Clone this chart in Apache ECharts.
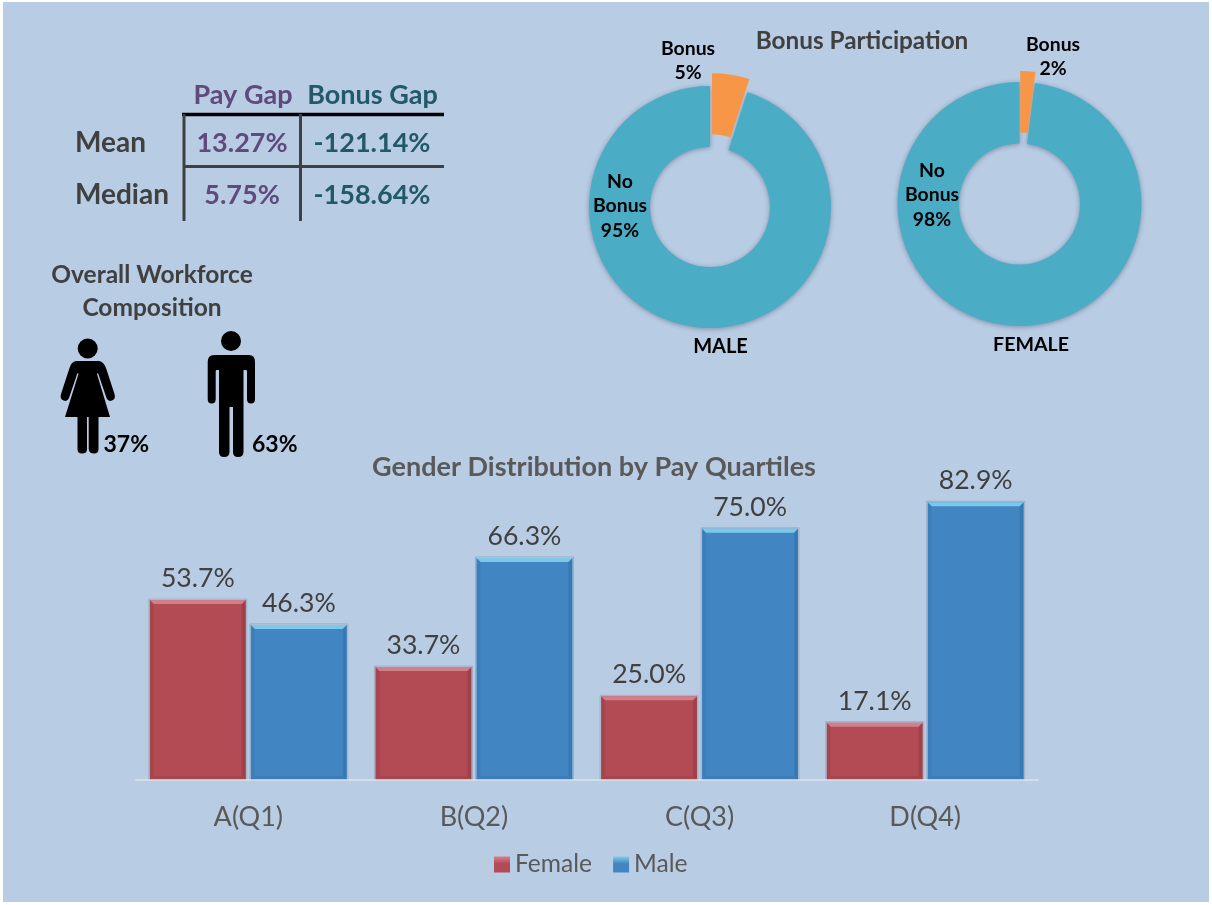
<!DOCTYPE html>
<html><head><meta charset="utf-8">
<style>html,body{margin:0;padding:0;background:#fff}#c{width:1212px;height:905px}</style>
<script src="https://cdn.jsdelivr.net/npm/echarts@6/dist/echarts.min.js"></script>
</head><body><div id="c"></div>
<script>
const quartiles = ['A(Q1)','B(Q2)','C(Q3)','D(Q4)'];
const femaleShare = [53.7,33.7,25.0,17.1];
const maleShare = [46.3,66.3,75.0,82.9];
const maleBonus = [5,95];
const femaleBonus = [2,98];
const bonusNames = ['Bonus','No Bonus'];
const gapColumns = ['Pay Gap','Bonus Gap'];
const gapRows = ['Mean','Median'];
const payGap = ['13.27%','5.75%'];
const bonusGap = ['-121.14%','-158.64%'];
const workforce = ['37%','63%'];

const FONT = 'Lato';
const BG = '#b8cce4', RED = '#b24b54', BLUE = '#4186c3', TEAL = '#4bacc6', ORANGE = '#f79646';

const womanPath = 'M76,361 L99,361 Q104,362 106,368 L114.5,394 Q116,399 112,400.5 Q108,402 106.5,398 L98,373 L97,374 L110,417 L98.5,417 L98.5,449 Q98.5,453.5 94,453.5 Q89,453.5 88.7,449 L88.7,417 L87,417 L87,449 Q87,453.5 82,453.5 Q77.5,453.5 77.5,449 L77.5,417 L65,417 L78.5,374 L77.5,373 L69,398 Q67.5,402 63.5,400.5 Q59.5,399 61,394 L69.5,368 Q71,362 76,361 Z';
const manPath = 'M214,355 L249,355 Q255,355 255,362 L255,399 Q255,403.5 251,403.5 Q247,403.5 247,399 L247,371 Q247,370 245,370 L243.5,370 L243.5,452 Q243.5,457 238,457 Q233,457 233,452 L233,407 L229.5,407 L229.5,452 Q229.5,457 224,457 Q219,457 219,452 L219,370 L217,370 Q215.7,370 215.7,371 L215.7,399 Q215.7,403.5 211.7,403.5 Q207.7,403.5 207.7,399 L207.7,362 Q207.7,355 214,355 Z';
echarts.graphic.registerShape('womanIcon', echarts.graphic.extendPath(womanPath, {}));
echarts.graphic.registerShape('manIcon', echarts.graphic.extendPath(manPath, {}));

function txt(x,y,text,size,fill,align){
  return {type:'text',x:x,y:y,style:{text:text,font:'bold '+size+'px '+FONT,fill:fill,align:align||'center',verticalAlign:'middle'}};
}
function rule(x1,y1,x2,y2,color,w){
  return {type:'line',shape:{x1:x1,y1:y1,x2:x2,y2:y2},style:{stroke:color,lineWidth:w||3}};
}
const tableY = [143,195];
const graphics = [
  {type:'rect',z:-10,shape:{x:3,y:2,width:1206,height:900},style:{fill:BG}},
  rule(182,114.5,444,114.5,'#000',3.5),
  rule(184,114,184,221,'#404040'),
  rule(300.5,114,300.5,221,'#404040'),
  rule(184,166.5,444,166.5,'#404040'),
  txt(243,95,gapColumns[0],27,'#604a7b'),
  txt(372.5,95,gapColumns[1],27,'#215968'),
  txt(152,275,'Overall Workforce',24.5,'#404040'),
  txt(152,308,'Composition',24.5,'#404040'),
  {type:'circle',shape:{cx:87.7,cy:348.5,r:10},style:{fill:'#000'}},
  {type:'womanIcon',style:{fill:'#000'}},
  {type:'circle',shape:{cx:231,cy:341,r:10},style:{fill:'#000'}},
  {type:'manIcon',style:{fill:'#000'}},
  txt(103.5,445,workforce[0],23,'#000','left'),
  txt(252,445,workforce[1],23,'#000','left'),
  txt(720.5,347,'MALE',20,'#000'),
  txt(1031,345,'FEMALE',19.6,'#000')
];
gapRows.forEach(function(r,i){
  graphics.push(txt(75,tableY[i],r,28,'#404040','left'));
  graphics.push(txt(242,tableY[i],payGap[i],27,'#604a7b'));
  graphics.push(txt(372,tableY[i],bonusGap[i],27,'#215968'));
});

function donut(vals,cx,cy,r,r0,bonusPos,noPos){
  return {
    type:'pie',center:[cx,cy],radius:[r0,r],startAngle:90,clockwise:true,silent:true,animation:false,
    data:[
      {name:bonusNames[0],value:vals[0],itemStyle:{color:'transparent',shadowBlur:0}},
      {name:bonusNames[1],value:vals[1],itemStyle:{color:TEAL,shadowBlur:5,shadowColor:'rgba(40,50,70,0.4)',shadowOffsetY:1}}
    ],
    label:{show:true,position:'inside',fontFamily:FONT,fontWeight:'bold',fontSize:19.4,lineHeight:24.5,color:'#000',
      formatter:function(p){return p.name.replace(' ','\n')+'\n'+p.value+'%';}},
    labelLine:{show:false},
    labelLayout:function(p){
      const q = p.dataIndex===0?bonusPos:noPos;
      return {x:q[0],y:q[1],align:'center',verticalAlign:'middle'};
    }
  };
}
function explodedSlice(vals,cx,cy,r,r0){
  return {
    type:'pie',center:[cx,cy],radius:[r0,r],startAngle:90,clockwise:true,silent:true,animation:false,
    label:{show:false},labelLine:{show:false},
    data:[
      {name:bonusNames[0],value:vals[0],itemStyle:{color:ORANGE}},
      {name:bonusNames[1],value:vals[1],itemStyle:{color:'transparent'}}
    ]
  };
}
function bevel(values,shift,light,dark){
  return {
    type:'custom',name:'bevel'+shift,silent:true,z:5,animation:false,
    encode:{x:0,y:1},
    data:values.map(function(v,i){return [i,v];}),
    renderItem:function(params,api){
      const top = api.coord([api.value(0),api.value(1)]);
      const base = api.coord([api.value(0),0]);
      const l = top[0]+shift-48, rr = top[0]+shift+48, t = top[1], b = base[1], e = 4;
      return {type:'group',children:[
        {type:'polygon',shape:{points:[[l,t],[rr,t],[rr-e,t+e],[l+e,t+e]]},style:{fill:light}},
        {type:'polygon',shape:{points:[[l,t],[l+e,t+e],[l+e,b-e],[l,b]]},style:{fill:dark,opacity:0.12}},
        {type:'polygon',shape:{points:[[rr,t],[rr-e,t+e],[rr-e,b-e],[rr,b]]},style:{fill:dark,opacity:0.22}},
        {type:'polygon',shape:{points:[[l,b],[l+e,b-e],[rr-e,b-e],[rr,b]]},style:{fill:dark,opacity:0.12}},
        {type:'rect',shape:{x:l-1,y:t-1,width:98,height:b-t+1},style:{fill:'none',stroke:'rgba(120,130,150,0.4)',lineWidth:1}}
      ]};
    }
  };
}
function legendFill(light,solid){
  return {type:'linear',x:0,y:0,x2:0,y2:1,colorStops:[{offset:0,color:light},{offset:0.45,color:solid},{offset:1,color:solid}]};
}
const barLabel = {show:true,position:'top',distance:8,fontFamily:FONT,fontSize:26.6,color:'#404040',
  formatter:function(p){return p.value.toFixed(1)+'%';}};

const chart = echarts.init(document.getElementById('c'),null,{renderer:'canvas',width:1212,height:905});
chart.setOption({
  animation:false,
  backgroundColor:'#ffffff',
  title:[
    {text:'Bonus Participation',left:862,top:41,textAlign:'center',textVerticalAlign:'middle',padding:0,
      textStyle:{fontFamily:FONT,fontWeight:'bold',fontSize:24.3,color:'#404040'}},
    {text:'Gender Distribution by Pay Quartiles',left:594,top:467,textAlign:'center',textVerticalAlign:'middle',padding:0,
      textStyle:{fontFamily:FONT,fontWeight:'bold',fontSize:27,color:'#595959'}}
  ],
  legend:{left:494,top:852,padding:0,itemWidth:16,itemHeight:16,itemGap:21,icon:'rect',selectedMode:false,
    data:[{name:'Female',itemStyle:{color:legendFill('#d8808a',RED)}},{name:'Male',itemStyle:{color:legendFill('#80cbea',BLUE)}}],
    textStyle:{fontFamily:FONT,fontSize:24.6,color:'#595959'}},
  grid:{left:135.5,width:902.5,top:445,height:335,containLabel:false},
  xAxis:{type:'category',data:quartiles,axisTick:{show:false},z:10,
    axisLine:{lineStyle:{color:'#dde3ea',width:1.5}},
    axisLabel:{fontFamily:FONT,fontSize:27,color:'#595959',margin:24}},
  yAxis:{type:'value',min:0,max:100,show:false,splitLine:{show:false}},
  series:[
    {type:'bar',name:'Female',data:femaleShare,barWidth:96,barGap:'5.2%',itemStyle:{color:RED},label:barLabel},
    {type:'bar',name:'Male',data:maleShare,barWidth:96,barGap:'5.2%',itemStyle:{color:BLUE},label:barLabel},
    bevel(femaleShare,-50.5,'#d0808a','#5e2025'),
    bevel(maleShare,50.5,'#7cc8e8','#1f4e79'),
    donut(maleBonus,710,207,121,60,[688,60.5],[620,206]),
    explodedSlice(maleBonus,712,194.2,121,60),
    donut(femaleBonus,1019.5,204,122,60.5,[1053,56.5],[932,195]),
    explodedSlice(femaleBonus,1020.2,193,122,60.5)
  ],
  graphic:{elements:graphics}
});
</script></body></html>
